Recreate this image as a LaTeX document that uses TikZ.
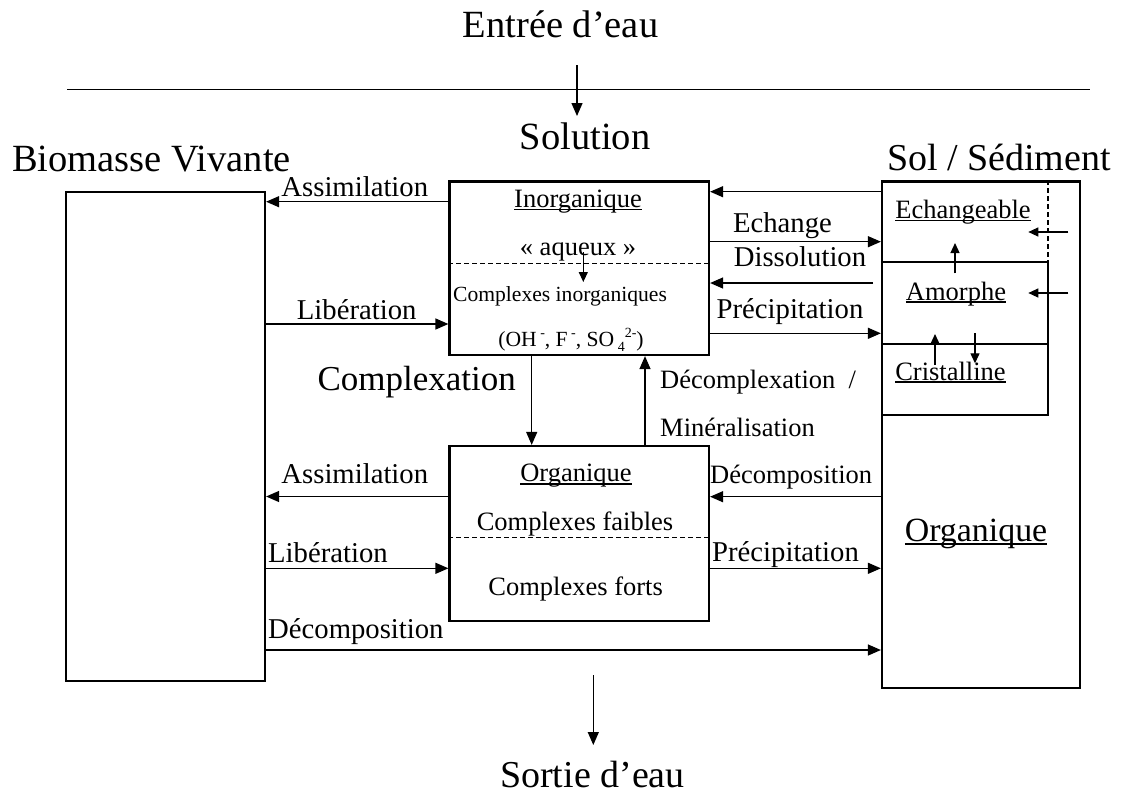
\documentclass[tikz,border=0pt]{standalone}
\usepackage{fontspec}
\setmainfont{Liberation Serif}
\usetikzlibrary{arrows.meta}

% underlined label text
\newcommand\ulw[1]{\setbox0=\hbox{#1}\rlap{\rule[-0.11em]{\wd0}{0.055em}}\box0}
% raised / lowered small indices
\newcommand\ups[1]{\raisebox{0.42em}{\fontsize{14}{14}\selectfont #1}}
\newcommand\dns[1]{\raisebox{-0.22em}{\fontsize{14}{14}\selectfont #1}}

\tikzset{
  box/.style={draw, line width=2.2pt, inner sep=0pt},
  arr/.style={-{Triangle[length=13pt,width=11pt]}, line width=1.3pt},
  sarr/.style={-{Triangle[length=10pt,width=9pt]}, line width=1.2pt},
  thin line/.style={line width=1.2pt},
  dline/.style={line width=1.1pt, dash pattern=on 5pt off 3pt},
  lbl/.style={inner sep=0pt, anchor=base},
  lblw/.style={inner sep=0pt, anchor=base west},
  huge txt/.style={font=\fontsize{38.5}{44}\selectfont},
  mid txt/.style={font=\fontsize{28.7}{32}\selectfont},
  box txt/.style={font=\fontsize{26.5}{30}\selectfont},
  small txt/.style={font=\fontsize{21.6}{24}\selectfont},
}

\begin{document}
\begin{tikzpicture}[x=1pt, y=-1pt]
\useasboundingbox (0,0) rectangle (1123,796);

% ---------- compartments ----------
\node[box, minimum width=199pt, minimum height=489pt] (bio) at (165.5,436.5) {};
\node[box, minimum width=259.5pt, minimum height=173.5pt] (inorg) at (579.25,268.25) {};
\node[box, minimum width=259.5pt, minimum height=175pt] (org) at (579.25,533.5) {};
\node[box, minimum width=198pt, minimum height=506.5pt] (sol) at (981,434.75) {};

% ---------- titles ----------
\node[lbl, huge txt] (entree) at (560.5,37.5) {Entrée d’eau};
\node[lbl, huge txt] (solution) at (585,149) {Solution};
\node[lbl, huge txt] (biomasse) at (151.5,171) {Biomasse Vivante};
\node[lbl, font=\fontsize{38}{44}\selectfont] (solsed) at (999,170) {Sol / Sédiment};
\node[lbl, font=\fontsize{38}{44}\selectfont] (sortie) at (592.5,787) {Sortie d’eau};

% water surface line and in/out flows
\coordinate (surfL) at (67,89.3);
\coordinate (surfR) at (1090,89.3);
\draw[thin line] (surfL) -- (surfR);
\coordinate (inStart) at (577,65);
\coordinate (inEnd) at (577,116);
\draw[arr] (inStart) -- (inEnd);
\coordinate (outStart) at (593.3,675);
\coordinate (outEnd) at (593.3,745);
\draw[arr] (outStart) -- (outEnd);

% ---------- inorganic solution box ----------
\coordinate (lvInDash) at (0,263.3);
\draw[dline] (inorg.west |- lvInDash) -- (inorg.east |- lvInDash);
\node[lbl, box txt] (inorgT) at (578,207.3) {\ulw{Inorganique}};
\node[lbl, box txt] (aqueux) at (578,255) {« aqueux »};
\node[lbl, small txt] (cplxinorg) at (560,301.7) {Complexes inorganiques};
\node[lbl, small txt] (ligands) at (571,346.7) {(OH\ups{ -}, F\ups{ -}, SO\dns{ 4}\ups{2-})};
\coordinate (aqA) at (583.3,252);
\coordinate (aqB) at (583.3,282);
\draw[sarr] (aqA) -- (aqB);

% ---------- organic solution box ----------
\coordinate (lvOrgDash) at (0,537.7);
\draw[dline] (org.west |- lvOrgDash) -- (org.east |- lvOrgDash);
\node[lbl, box txt] (orgT) at (576,481.7) {\ulw{Organique}};
\node[lbl, box txt] (faibles) at (575,530.7) {Complexes faibles};
\node[lbl, box txt] (forts) at (575.6,595) {Complexes forts};

% complexation / mineralisation between the two solution boxes
\coordinate (colCplx) at (531.7,0);
\coordinate (colMin) at (645,0);
\draw[arr] (inorg.south -| colCplx) -- (org.north -| colCplx);
\draw[arr] (org.north -| colMin) -- (inorg.south -| colMin);
\node[lbl, font=\fontsize{35}{40}\selectfont] (complexation) at (416.7,390) {Complexation};
\node[lblw, box txt] (decomplex) at (660,388.3) {Décomplexation~~/};
\node[lblw, box txt] (mineral) at (660,436.7) {Minéralisation};

% ---------- soil / sediment box ----------
\coordinate (dashTop) at (1048,181.5);
\coordinate (exBR) at (1048,262);
\coordinate (amBR) at (1048,344);
\coordinate (crBR) at (1048,415);
\draw[dline] (sol.north -| dashTop) -- (exBR);
\draw[thin line] (sol.west |- exBR) -- (exBR) -- (crBR) -- (sol.west |- crBR);
\draw[thin line] (sol.west |- amBR) -- (amBR);
\node[lbl, box txt] (echangeable) at (963,218.3) {\ulw{Echangeable}};
\node[lbl, box txt] (amorphe) at (956,300) {\ulw{Amorphe}};
\node[lbl, box txt] (cristalline) at (950.5,380) {\ulw{Cristalline}};
\node[lbl, font=\fontsize{33.9}{38}\selectfont] (solorg) at (976,541) {\ulw{Organique}};
\coordinate (exIn) at (1068.3,232);
\coordinate (exTip) at (1028.3,232);
\coordinate (amIn) at (1068.3,293);
\coordinate (amTip) at (1028.3,293);
\draw[sarr] (exIn) -- (exTip);
\draw[sarr] (amIn) -- (amTip);
\coordinate (amUpA) at (955,273.3);
\coordinate (amUpB) at (955,243);
\draw[sarr] (amUpA) -- (amUpB);
\coordinate (crUpA) at (935,365);
\coordinate (crUpB) at (935,334);
\draw[sarr] (crUpA) -- (crUpB);
\coordinate (crDnA) at (975,333.3);
\coordinate (crDnB) at (975,363.3);
\draw[sarr] (crDnA) -- (crDnB);

% ---------- exchanges with living biomass ----------
\coordinate (lvAssimTop) at (0,201.7);
\coordinate (lvLibTop) at (0,324);
\coordinate (lvAssimBot) at (0,496.5);
\coordinate (lvLibBot) at (0,568.3);
\coordinate (lvDecBot) at (0,650);
\draw[arr] (inorg.west |- lvAssimTop) -- (bio.east |- lvAssimTop);
\draw[arr] (bio.east |- lvLibTop) -- (inorg.west |- lvLibTop);
\draw[arr] (org.west |- lvAssimBot) -- (bio.east |- lvAssimBot);
\draw[arr] (bio.east |- lvLibBot) -- (org.west |- lvLibBot);
\draw[arr] (bio.east |- lvDecBot) -- (sol.west |- lvDecBot);
\node[lbl, mid txt] (assim1) at (354.8,196.7) {Assimilation};
\node[lbl, mid txt] (lib1) at (356.7,319.3) {Libération};
\node[lbl, mid txt] (assim2) at (354.8,483.3) {Assimilation};
\node[lblw, mid txt] (lib2) at (268,562) {Libération};
\node[lblw, mid txt] (dec2) at (268,638) {Décomposition};

% ---------- exchanges with soil / sediment ----------
\coordinate (lvRetour) at (0,191.7);
\coordinate (lvEch) at (0,241.7);
\coordinate (lvDiss) at (873,283);
\coordinate (lvPrec) at (0,333.3);
\coordinate (lvDecR) at (0,496.7);
\coordinate (lvPrecB) at (0,568.3);
\draw[arr] (sol.west |- lvRetour) -- (inorg.east |- lvRetour);
\draw[arr] (inorg.east |- lvEch) -- (sol.west |- lvEch);
\draw[arr] (lvDiss) -- (inorg.east |- lvDiss);
\draw[arr] (inorg.east |- lvPrec) -- (sol.west |- lvPrec);
\draw[arr] (sol.west |- lvDecR) -- (org.east |- lvDecR);
\draw[arr] (org.east |- lvPrecB) -- (sol.west |- lvPrecB);
\node[lbl, mid txt] (echange) at (782.5,232.3) {Echange};
\node[lbl, mid txt] (dissol) at (800,266.7) {Dissolution};
\node[lbl, mid txt] (prec1) at (790,318.3) {Précipitation};
\node[lblw, box txt] (decR) at (710,483.3) {Décomposition};
\node[lblw, mid txt] (prec2) at (712,561) {Précipitation};
\end{tikzpicture}
\end{document}
